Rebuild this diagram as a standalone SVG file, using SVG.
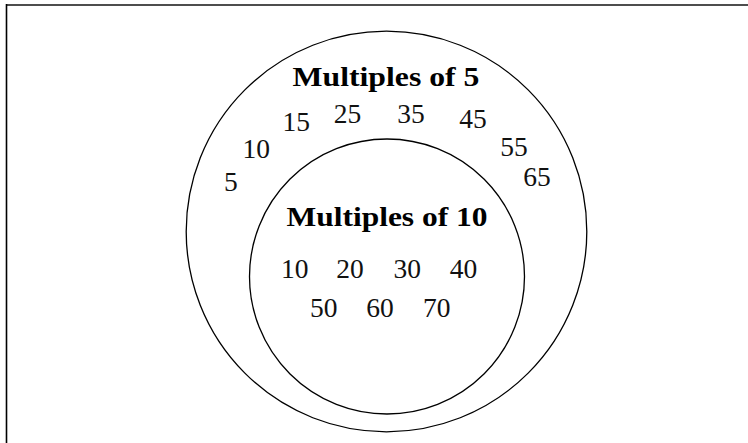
<svg xmlns="http://www.w3.org/2000/svg" width="748" height="443" viewBox="0 0 748 443">
  <style>
    .set { fill: none; stroke: #000; stroke-width: 1.3; }
    .title { font-family: "Liberation Serif", "Times New Roman", serif; font-weight: bold; font-size: 28px; fill: #000; text-anchor: middle; }
    .num { font-family: "Liberation Serif", "Times New Roman", serif; font-size: 27.5px; fill: #111; text-anchor: middle; }
  </style>
  <rect x="0" y="0" width="748" height="443" fill="#fff"/>
  <g id="frame">
    <line x1="6" y1="5" x2="748" y2="5" stroke="#4d4d4d" stroke-width="2"/>
    <line x1="6.5" y1="4" x2="6.5" y2="443" stroke="#000" stroke-width="1.6"/>
  </g>
  <g id="multiples-of-5">
    <circle class="set" cx="386.5" cy="231.5" r="200.3"/>
    <text class="title" x="386" y="86" textLength="187" lengthAdjust="spacingAndGlyphs">Multiples of 5</text>
    <text class="num" x="230.8" y="191">5</text>
    <text class="num" x="256.3" y="158.3">10</text>
    <text class="num" x="296.3" y="130.7">15</text>
    <text class="num" x="347.5" y="123.3">25</text>
    <text class="num" x="411" y="123.3">35</text>
    <text class="num" x="473" y="128.3">45</text>
    <text class="num" x="514" y="156">55</text>
    <text class="num" x="537" y="186">65</text>
  </g>
  <g id="multiples-of-10">
    <circle class="set" cx="387" cy="276.5" r="137.5"/>
    <text class="title" x="387" y="226" textLength="201" lengthAdjust="spacingAndGlyphs">Multiples of 10</text>
    <text class="num" x="294.8" y="278.3">10</text>
    <text class="num" x="350" y="278.3">20</text>
    <text class="num" x="407.2" y="278.3">30</text>
    <text class="num" x="463.5" y="278.3">40</text>
    <text class="num" x="323.7" y="316.7">50</text>
    <text class="num" x="380" y="316.7">60</text>
    <text class="num" x="436.8" y="316.7">70</text>
  </g>
</svg>
